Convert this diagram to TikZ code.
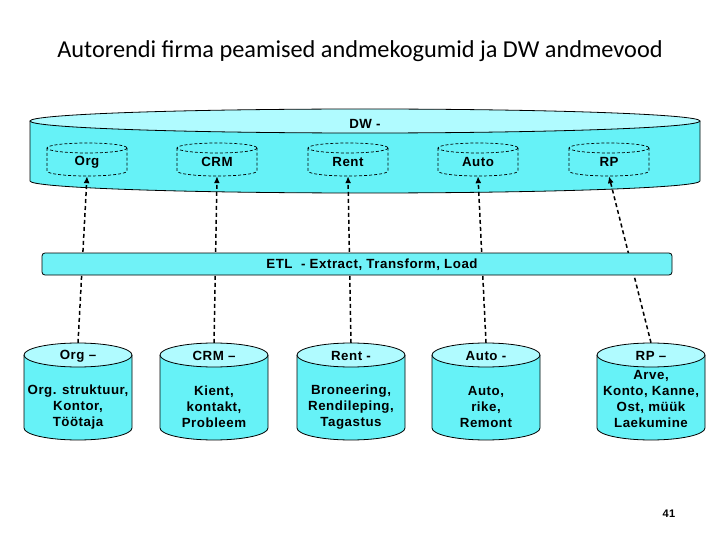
\documentclass[tikz,border=0pt]{standalone}
\usepackage{fontspec}
\setmainfont{Liberation Sans}
\newfontfamily\titlefont{Carlito}
\newfontfamily\labfont[LetterSpace=4]{Liberation Sans}
\usetikzlibrary{arrows.meta}
\definecolor{cylbody}{HTML}{66F2F7}
\definecolor{cyltop}{HTML}{B0FBFF}
\definecolor{etlfill}{HTML}{70F2F7}
\newcommand\mycyl[8]{%
  \path[#7] ({#2-#5},#3) -- ({#2-#5},#4) arc[start angle=180,end angle=0,x radius=#5,y radius=#6] -- ({#2+#5},#3);
  \path[#8] (#2,#3) ellipse[x radius=#5,y radius=#6];
  \node[inner sep=0pt, minimum width={2*#5}, minimum height={#4-#3+2*#6}] (#1) at (#2,{(#3+#4)/2}) {};
}
\tikzset{
  bodyst/.style={fill=cylbody, draw=black, line width=0.8pt},
  topst/.style={fill=cyltop, draw=black, line width=0.8pt},
  dashst/.style={draw=black, line width=0.7pt, dash pattern=on 3pt off 2pt},
  conn/.style={draw=black, line width=1.5pt, dash pattern=on 4pt off 3pt, -{Latex[length=7pt,width=6pt]}},
  lab/.style={font=\labfont\bfseries\fontsize{13.3}{16}\selectfont, inner sep=0pt, align=center},
}
\begin{document}
\begin{tikzpicture}[x=1pt,y=-1pt]
\useasboundingbox (0,0) rectangle (720,540);
\node[font=\titlefont\fontsize{24.3}{28}\selectfont, inner sep=0pt] (title) at (360,51) {Autorendi firma peamised andmekogumid ja DW andmevood};
% DW cylinder
\mycyl{dw}{365}{121}{181}{335}{12}{bodyst}{topst}
\node[lab] (dwl) at (365,124) {DW -};
% inner dashed cylinders
\mycyl{t1}{87}{148}{171}{40}{5}{dashst}{dashst}
\mycyl{t2}{217}{148}{171}{40}{5}{dashst}{dashst}
\mycyl{t3}{348}{148}{171}{40}{5}{dashst}{dashst}
\mycyl{t4}{478}{148}{171}{40}{5}{dashst}{dashst}
\mycyl{t5}{609}{148}{171}{40}{5}{dashst}{dashst}
\node[lab] at (87,162) {Org};
\node[lab] at (217,162) {CRM};
\node[lab] at (348,162) {Rent};
\node[lab] at (478,162) {Auto};
\node[lab] at (609,162) {RP};
% bottom cylinder nodes (anchors for connectors)
\node[inner sep=0pt, minimum width=108pt, minimum height=97pt] (b1) at (78,391.5) {};
\node[inner sep=0pt, minimum width=108pt, minimum height=97pt] (b2) at (214,391.5) {};
\node[inner sep=0pt, minimum width=108pt, minimum height=97pt] (b3) at (351,391.5) {};
\node[inner sep=0pt, minimum width=108pt, minimum height=97pt] (b4) at (486,391.5) {};
\node[inner sep=0pt, minimum width=108pt, minimum height=97pt] (b5) at (651,391.5) {};
% connectors
\draw[conn] (b1.north) -- (t1.south);
\draw[conn] (b2.north) -- (t2.south);
\draw[conn] (b3.north) -- (t3.south);
\draw[conn] (b4.north) -- (t4.south);
\draw[conn] (b5.north) -- (t5.south);
% ETL bar
\node[draw=black, line width=0.8pt, fill=etlfill, rounded corners=3pt, minimum width=630pt, minimum height=22pt, inner sep=0pt] (etl) at (357,264) {};
\node[lab] at (372,265) {ETL\ \ - Extract, Transform, Load};
% bottom cylinders
\mycyl{c1}{78}{355}{428}{54}{12}{bodyst}{topst}
\mycyl{c2}{214}{355}{428}{54}{12}{bodyst}{topst}
\mycyl{c3}{351}{355}{428}{54}{12}{bodyst}{topst}
\mycyl{c4}{486}{355}{428}{54}{12}{bodyst}{topst}
\mycyl{c5}{651}{355}{428}{54}{12}{bodyst}{topst}
\node[lab] at (78,356) {Org –};
\node[lab] at (214,356) {CRM –};
\node[lab] at (351,356) {Rent -};
\node[lab] at (486,356) {Auto -};
\node[lab] at (651,356) {RP –};
\node[lab] at (78,407) {Org. struktuur,\\Kontor,\\Töötaja};
\node[lab] at (214,407) {Kient,\\kontakt,\\Probleem};
\node[lab] at (351,407) {Broneering,\\Rendileping,\\Tagastus};
\node[lab] at (486,407) {Auto,\\rike,\\Remont};
\node[lab] at (651,399) {Arve,\\Konto, Kanne,\\Ost, müük\\Laekumine};
\node[font=\labfont\bfseries\fontsize{11}{13}\selectfont, inner sep=0pt] (pg) at (669,514) {41};
\end{tikzpicture}
\end{document}
